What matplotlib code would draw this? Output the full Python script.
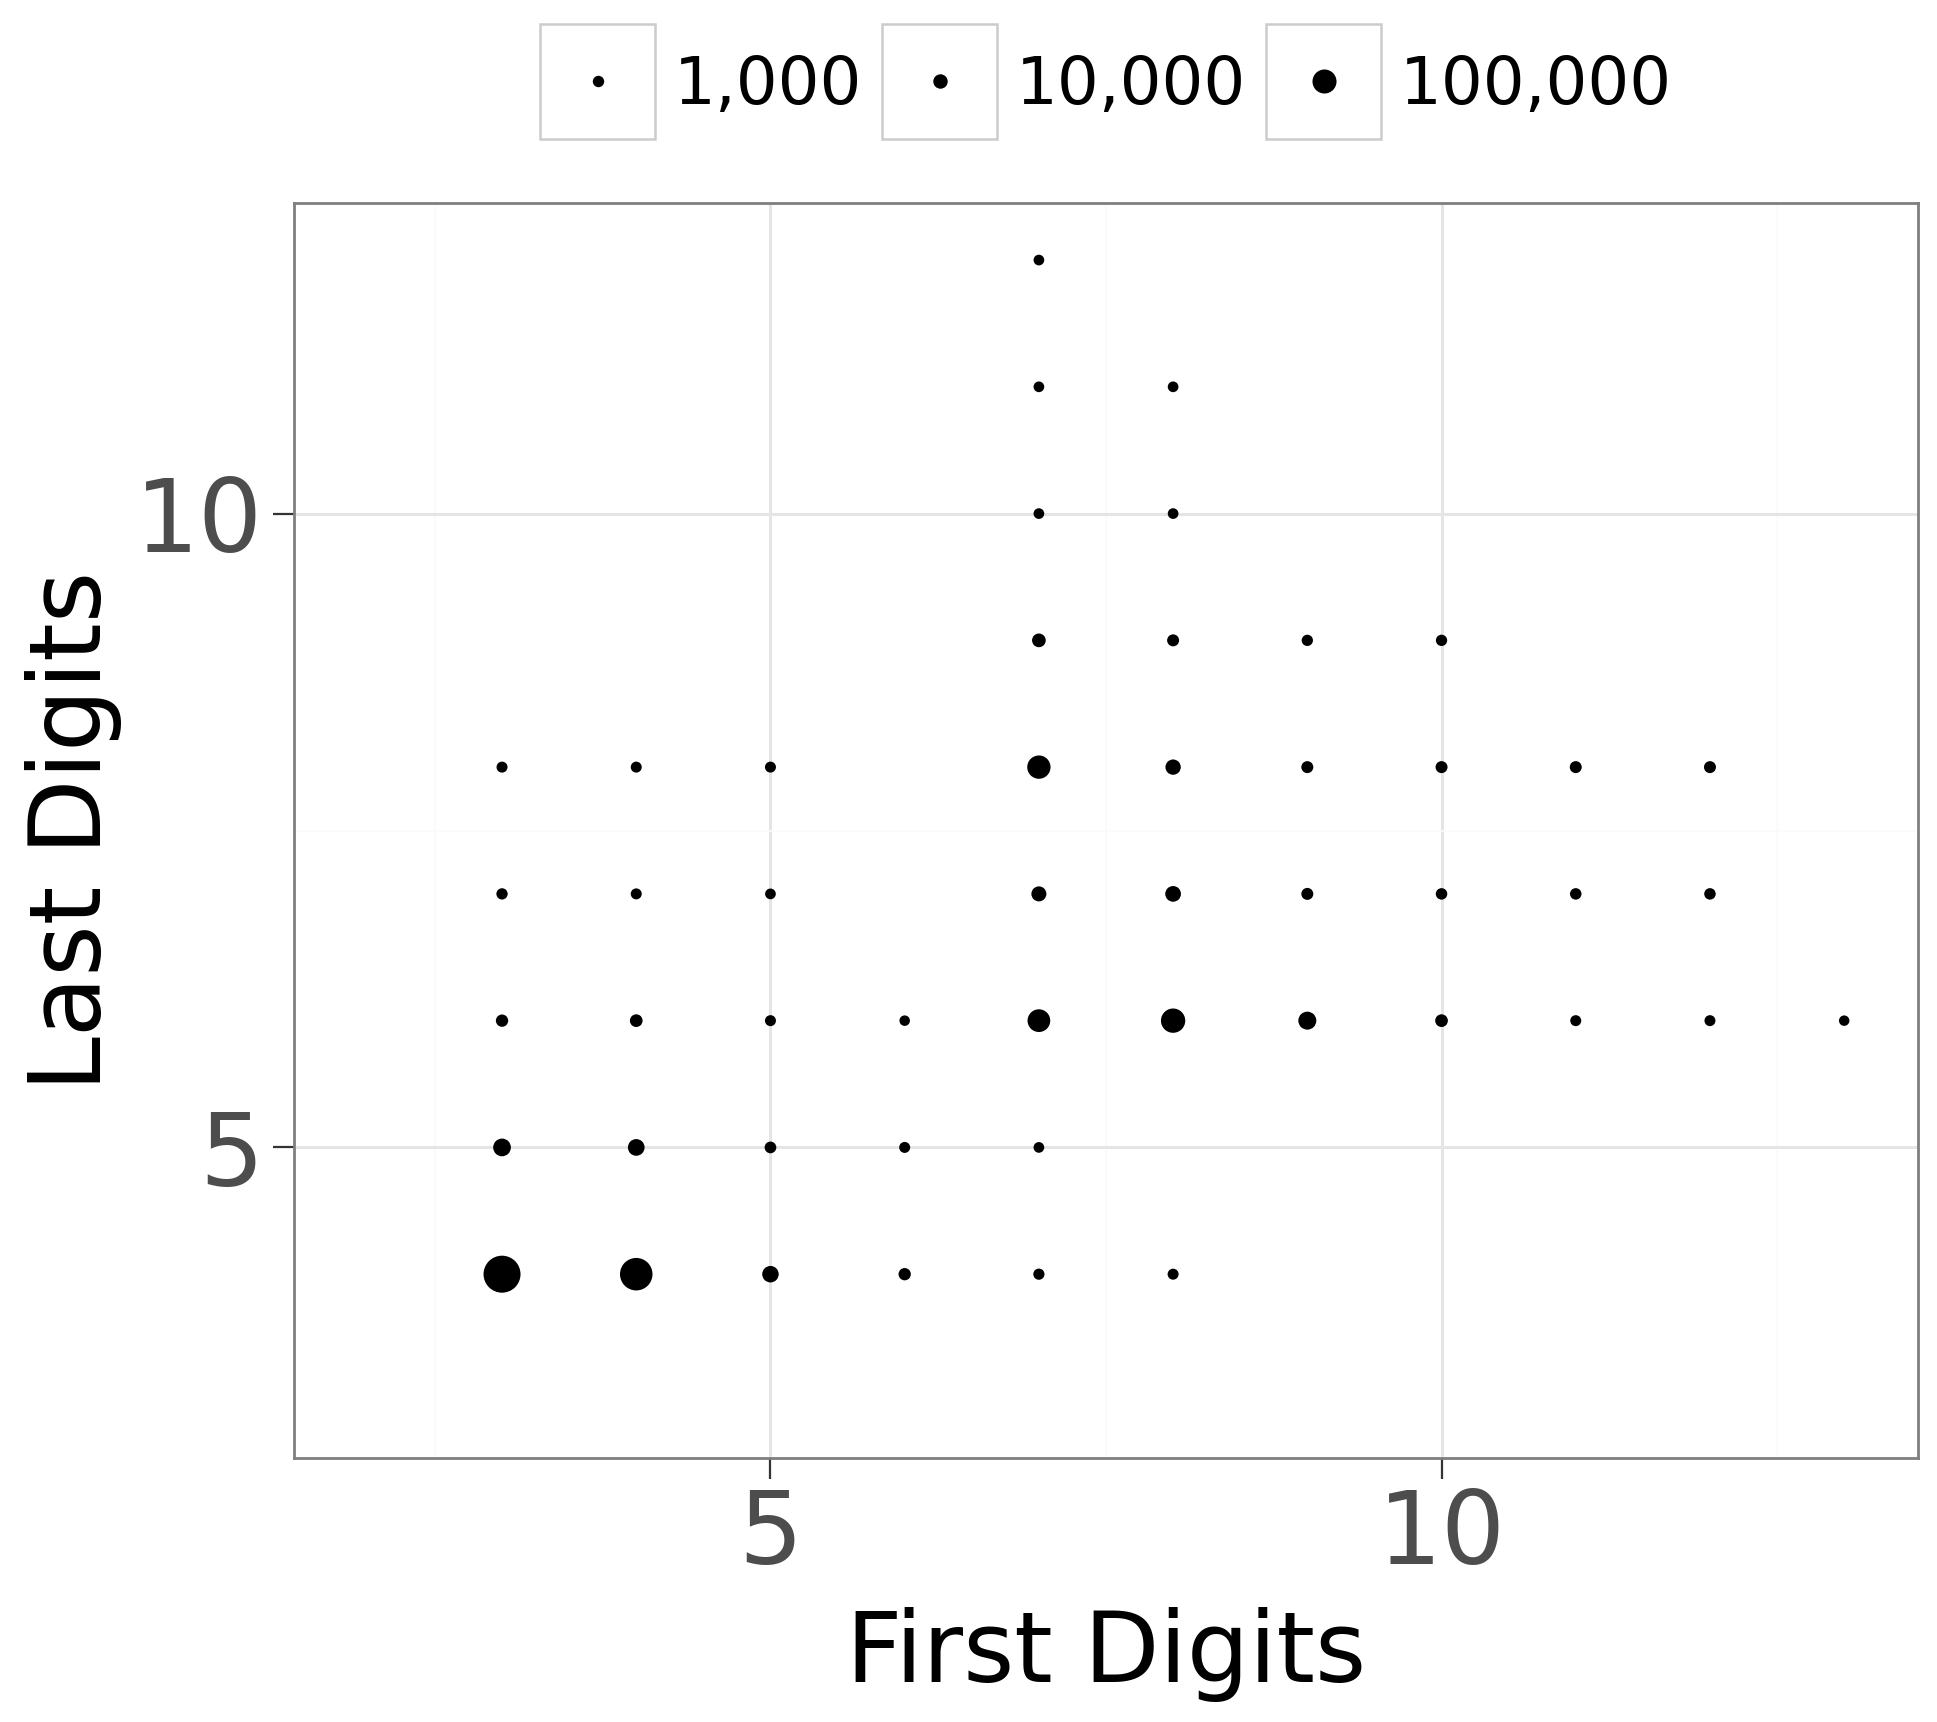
import numpy as np
import matplotlib
matplotlib.use("Agg")
import matplotlib.pyplot as plt
from matplotlib.legend_handler import HandlerBase
from matplotlib.patches import Rectangle
from matplotlib.lines import Line2D

plt.rcParams['font.family'] = ['DejaVu Sans']

# ---- data ----
first_digits = [7,
                7, 8,
                7, 8,
                7, 8, 9, 10,
                3, 4, 5, 7, 8, 9, 10, 11, 12,
                3, 4, 5, 7, 8, 9, 10, 11, 12,
                3, 4, 5, 6, 7, 8, 9, 10, 11, 12, 13,
                3, 4, 5, 6, 7,
                3, 4, 5, 6, 7, 8]
last_digits = [12,
               11, 11,
               10, 10,
               9, 9, 9, 9,
               8, 8, 8, 8, 8, 8, 8, 8, 8,
               7, 7, 7, 7, 7, 7, 7, 7, 7,
               6, 6, 6, 6, 6, 6, 6, 6, 6, 6, 6,
               5, 5, 5, 5, 5,
               4, 4, 4, 4, 4, 4]
counts = [250,
          250, 250,
          250, 250,
          6900, 2000, 860, 860,
          510, 510, 510, 89800, 14300, 2000, 2000, 2000, 2000,
          860, 510, 250, 12700, 16500, 2000, 1140, 1140, 1140,
          2700, 3700, 510, 130, 82000, 104000, 32500, 3700, 510, 510, 100,
          30100, 22800, 1470, 510, 250,
          370000, 257000, 21400, 2700, 730, 510]

legend_values = [1000, 10000, 100000]
legend_labels = ["1,000", "10,000", "100,000"]
x_ticks = [5, 10]
y_ticks = [5, 10]
x_label = "First Digits"
y_label = "Last Digits"

# ---- size scale (area-like, ggplot style) ----
SIZE_MIN_PT = 7.2
SIZE_SPAN_PT = 19.44
vmax = max(counts)


def diam_pt(v):
    return SIZE_MIN_PT + SIZE_SPAN_PT * np.sqrt(np.asarray(v, float) / vmax)


fig = plt.figure(figsize=(19.37, 17.22), dpi=100)
ax = fig.add_axes([0.15178, 0.15331, 0.83841, 0.72880])

ax.scatter(first_digits, last_digits, s=diam_pt(counts) ** 2, c='black',
           linewidths=0, zorder=3)

ax.set_xlim(1.45, 13.55)
ax.set_ylim(2.55, 12.45)
ax.set_xticks(x_ticks)
ax.set_yticks(y_ticks)
ax.set_xticks([2.5, 7.5, 12.5], minor=True)
ax.set_yticks([7.5], minor=True)
ax.grid(which='major', color='#E5E5E5', linewidth=2.2, zorder=0)
ax.grid(which='minor', color='#FAFAFA', linewidth=1.1, zorder=0)
ax.set_axisbelow(True)
ax.tick_params(which='major', length=15, width=1.6, color='#333333',
               labelsize=72.5, labelcolor='#4D4D4D')
ax.tick_params(axis='x', which='major', pad=6)
ax.tick_params(axis='y', which='major', pad=7)
ax.tick_params(which='minor', length=0)
for sp in ax.spines.values():
    sp.set_color('#7F7F7F')
    sp.set_linewidth(2.0)

ax.set_xlabel(x_label, fontsize=70.7, color='black')
ax.set_ylabel(y_label, fontsize=71, color='black')
ax.xaxis.set_label_coords(0.5, -0.119)
ax.yaxis.set_label_coords(-0.106, 0.5)


class BoxKeyHandler(HandlerBase):
    def create_artists(self, legend, orig_handle, xdescent, ydescent,
                       width, height, fontsize, trans):
        side = width
        cx = width / 2 - xdescent
        cy = height / 2 - ydescent
        rect = Rectangle((cx - side / 2, cy - side / 2), side, side,
                         facecolor='white', edgecolor='#CCCCCC',
                         linewidth=1.8, transform=trans)
        mk = Line2D([cx], [cy], marker='o',
                    markersize=orig_handle.get_markersize(),
                    markerfacecolor='black', markeredgewidth=0,
                    linestyle='none', transform=trans)
        return [rect, mk]


handles = [Line2D([], [], marker='o', linestyle='none',
                  markersize=float(diam_pt(v))) for v in legend_values]
leg = fig.legend(handles, legend_labels, loc='center',
                 bbox_to_anchor=(0.571, 0.952), ncol=3, frameon=False,
                 fontsize=47.3, handlelength=1.75, handleheight=1.2,
                 handletextpad=0.28, columnspacing=0.31, borderpad=0,
                 handler_map={Line2D: BoxKeyHandler()})

fig.savefig("out.png", dpi=100)
